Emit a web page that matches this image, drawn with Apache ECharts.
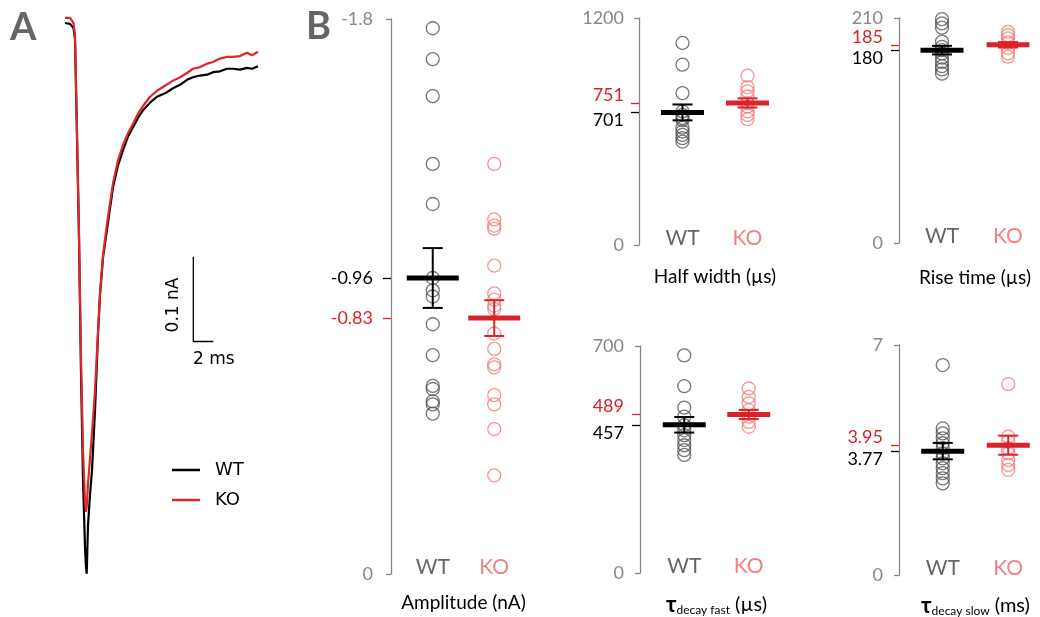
<!DOCTYPE html>
<html>
<head>
<meta charset="utf-8">
<script src="https://cdn.jsdelivr.net/npm/echarts@6/dist/echarts.min.js"></script>
<style>
  html, body { margin: 0; padding: 0; background: #fff; }
  #chart { width: 1040px; height: 617px; }
</style>
</head>
<body>
<div id="chart"></div>
<script>
// ---- panel A: averaged currents (time in ms, current in nA)
const traceTime = [0, 0.5, 0.7, 0.85, 1.0, 1.2, 1.4, 1.6, 1.8, 2.0, 2.1, 2.17, 2.3, 2.5, 2.7, 3.0, 3.3, 3.5, 3.8, 4.2,
  4.8, 5.3, 5.8, 6.3, 6.8, 7.3, 7.8, 8.5, 9.2, 10.0, 10.8, 11.5, 12.2, 12.8, 13.5, 14.2, 14.8, 15.5, 16.2, 16.8,
  17.5, 18.2, 18.7, 19.3];
const traceWT = [-0.006, -0.007, -0.009, -0.012, -0.025, -0.140, -0.260, -0.420, -0.545, -0.625, -0.648, -0.656,
  -0.599, -0.563, -0.534, -0.463, -0.374, -0.327, -0.283, -0.250, -0.200, -0.174, -0.156, -0.140, -0.129, -0.118,
  -0.109, -0.100, -0.093, -0.089, -0.083, -0.079, -0.073, -0.070, -0.068, -0.067, -0.064, -0.063, -0.060, -0.060,
  -0.061, -0.059, -0.060, -0.057];
const traceKO = [0, 0, 0, -0.006, -0.020, -0.135, -0.255, -0.400, -0.510, -0.570, -0.583, -0.577,
  -0.550, -0.520, -0.490, -0.440, -0.370, -0.325, -0.280, -0.243, -0.195, -0.168, -0.150, -0.136, -0.125, -0.113,
  -0.104, -0.093, -0.086, -0.080, -0.074, -0.070, -0.065, -0.060, -0.058, -0.054, -0.052, -0.048, -0.046, -0.046,
  -0.045, -0.041, -0.044, -0.040];
// scale bar: 2 ms x 0.1 nA
const scaleBar = [[12.83, -0.282], [12.83, -0.382], [14.83, -0.382]];

// ---- panel B: single cells, mean and SEM
const groups = ['WT', 'KO'];

const ampWT = [-1.77, -1.67, -1.55, -1.33, -1.20, -0.96, -0.92, -0.90, -0.81, -0.71, -0.61, -0.60, -0.56, -0.55, -0.52];
const ampKO = [-1.33, -1.15, -1.13, -1.12, -1.00, -0.91, -0.89, -0.87, -0.86, -0.78, -0.73, -0.68, -0.67, -0.58, -0.55, -0.47, -0.32];
const ampMean = [-0.96, -0.83];
const ampSem = [0.097, 0.058];

const halfWT = [1068, 953, 803, 706, 688, 672, 660, 620, 600, 582, 565, 547];
const halfKO = [895, 835, 812, 785, 750, 732, 706, 688, 665];
const halfMean = [701, 751];
const halfSem = [42, 24];

const riseWT = [209, 205, 201, 188, 183, 180, 177, 173, 169, 165, 162, 158];
const riseKO = [197, 194, 191, 187, 182, 177, 174];
const riseMean = [180, 185];
const riseSem = [4, 2.5];

const fastWT = [671, 576, 510, 482, 456, 440, 425, 410, 394, 379, 364];
const fastKO = [569, 543, 523, 502, 482, 466, 451];
const fastMean = [457, 489];
const fastSem = [24, 14];

const slowWT = [6.39, 4.46, 4.31, 4.16, 4.01, 3.86, 3.70, 3.55, 3.40, 3.25, 3.10, 2.94, 2.79];
const slowKO = [5.81, 4.21, 4.06, 3.86, 3.70, 3.50, 3.35, 3.20];
const slowMean = [3.77, 3.95];
const slowSem = [0.25, 0.29];

const FONT = 'Lato, "Open Sans", sans-serif';
const GRAY = '#888';
const DOT_WT = '#555';
const DOT_KO = '#f47a7a';
const MEAN_WT = '#000';
const MEAN_KO = '#d8232a';

const nameRich = {
  n: { fontFamily: FONT, fontSize: 19, color: '#000' },
  t: { fontFamily: FONT, fontSize: 22, fontWeight: 'bold', color: '#000' },
  s: { fontFamily: FONT, fontSize: 12, color: '#000', verticalAlign: 'bottom', lineHeight: 12 },
  u: { fontFamily: FONT, fontSize: 20, color: '#000' }
};

const panels = [
  { name: '{n|Amplitude (nA)}', wt: ampWT, ko: ampKO, mean: ampMean, sem: ampSem, min: -1.8, max: 0, inverse: true,
    left: 402, top: 19, width: 123, height: 555, offset: 11, barW: 52, nameGap: 19, margin: 18, shift: false },
  { name: '{n|Half width (µs)}', wt: halfWT, ko: halfKO, mean: halfMean, sem: halfSem, min: 0, max: 1200,
    left: 650, top: 18, width: 130, height: 227, offset: 11, barW: 43, nameGap: 22, margin: 15, shift: true },
  { name: '{n|Rise time (µs)}', wt: riseWT, ko: riseKO, mean: riseMean, sem: riseSem, min: 0, max: 210,
    left: 909, top: 18, width: 132, height: 225, offset: 10, barW: 43, nameGap: 25, margin: 16, shift: true },
  { name: '{t|τ}{s|decay fast}{u| (µs)}', wt: fastWT, ko: fastKO, mean: fastMean, sem: fastSem, min: 0, max: 700,
    left: 652, top: 346, width: 129, height: 227, offset: 12, barW: 43, nameGap: 21, margin: 16, shift: true },
  { name: '{t|τ}{s|decay slow}{u| (ms)}', wt: slowWT, ko: slowKO, mean: slowMean, sem: slowSem, min: 0, max: 7,
    left: 910, top: 345, width: 131, height: 230, offset: 11, barW: 43, nameGap: 20, margin: 16, shift: true }
];

const grid = [{ left: 65, top: 1, width: 200, height: 576, outerBoundsMode: 'none' }];
const xAxis = [{ type: 'value', gridIndex: 0, min: 0, max: 20, show: false }];
const yAxis = [{ type: 'value', gridIndex: 0, min: -0.66, max: 0.02, show: false }];
const series = [
  { name: 'WT', type: 'line', xAxisIndex: 0, yAxisIndex: 0, showSymbol: false, silent: true, z: 3,
    data: traceTime.map((t, i) => [t, traceWT[i]]), lineStyle: { color: '#000', width: 2.2 }, itemStyle: { color: '#000' } },
  { name: 'KO', type: 'line', xAxisIndex: 0, yAxisIndex: 0, showSymbol: false, silent: true, z: 4,
    data: traceTime.map((t, i) => [t, traceKO[i]]), lineStyle: { color: '#e0252b', width: 2.2 }, itemStyle: { color: '#e0252b' } },
  { name: 'scale', type: 'line', xAxisIndex: 0, yAxisIndex: 0, showSymbol: false, silent: true,
    data: scaleBar, lineStyle: { color: '#000', width: 1.3 } }
];

// extra y axis that only carries one coloured tick + label for a group mean
function meanAxis(gi, p, value, color, align) {
  return {
    type: 'value', gridIndex: gi, min: p.min, max: p.max, inverse: !!p.inverse, position: 'left', offset: p.offset,
    axisLine: { show: false }, splitLine: { show: false },
    axisTick: { show: true, customValues: [value], length: 8, lineStyle: { color: color, width: 1.3 } },
    axisLabel: { customValues: [value], margin: p.margin, color: color, fontFamily: FONT, fontSize: 18,
      verticalAlign: align, lineHeight: align === 'middle' ? 20 : 16, formatter: v => String(v) }
  };
}

function errorBars(barW) {
  return function (params, api) {
    const c = api.value(0), m = api.value(1), s = api.value(2);
    const p = api.coord([c, m]);
    const a = api.coord([c, m + s]);
    const b = api.coord([c, m - s]);
    const color = c === 0 ? MEAN_WT : MEAN_KO;
    const thin = { stroke: color, lineWidth: 2 };
    return {
      type: 'group',
      children: [
        { type: 'line', shape: { x1: p[0], y1: a[1], x2: p[0], y2: b[1] }, style: thin },
        { type: 'line', shape: { x1: p[0] - 10, y1: a[1], x2: p[0] + 10, y2: a[1] }, style: thin },
        { type: 'line', shape: { x1: p[0] - 10, y1: b[1], x2: p[0] + 10, y2: b[1] }, style: thin },
        { type: 'line', shape: { x1: p[0] - barW / 2, y1: p[1], x2: p[0] + barW / 2, y2: p[1] },
          style: { stroke: color, lineWidth: 5 } }
      ]
    };
  };
}

panels.forEach((p, k) => {
  const gi = k + 1;
  grid.push({ left: p.left, top: p.top, width: p.width, height: p.height, outerBoundsMode: 'none' });
  xAxis.push({
    type: 'category', gridIndex: gi, data: groups, boundaryGap: true,
    axisLine: { show: false }, axisTick: { show: false }, splitLine: { show: false },
    axisLabel: { margin: -17, fontFamily: FONT, fontSize: 21, color: v => (v === 'WT' ? '#666' : '#f28080') },
    name: p.name, nameLocation: 'middle', nameGap: p.nameGap,
    nameTextStyle: { fontFamily: FONT, fontSize: 19, color: '#000', rich: nameRich }
  });
  const yMain = yAxis.length;
  yAxis.push({
    type: 'value', gridIndex: gi, min: p.min, max: p.max, inverse: !!p.inverse, position: 'left', offset: p.offset,
    axisLine: { show: true, lineStyle: { color: GRAY, width: 1.3 } },
    axisTick: { show: true, customValues: [p.min, p.max], length: 5, lineStyle: { color: GRAY, width: 1.3 } },
    splitLine: { show: false },
    axisLabel: { customValues: [p.min, p.max], margin: p.margin, color: GRAY, fontFamily: FONT, fontSize: 18,
      formatter: v => String(v) }
  });
  yAxis.push(meanAxis(gi, p, p.mean[1], MEAN_KO, p.shift ? 'bottom' : 'middle'));
  yAxis.push(meanAxis(gi, p, p.mean[0], MEAN_WT, p.shift ? 'top' : 'middle'));

  [[p.wt, 0, DOT_WT], [p.ko, 1, DOT_KO]].forEach(([vals, c, color]) => {
    series.push({
      name: groups[c] + ' cells ' + k, type: 'scatter', xAxisIndex: gi, yAxisIndex: yMain, silent: true, z: 2,
      symbol: 'circle', symbolSize: 13,
      itemStyle: { color: 'rgba(255,255,255,0)', borderColor: color, borderWidth: 1.3 },
      data: vals.map(v => [c, v])
    });
  });
  series.push({
    name: 'mean ' + k, type: 'custom', xAxisIndex: gi, yAxisIndex: yMain, silent: true, z: 5,
    renderItem: errorBars(p.barW),
    encode: { x: 0, y: 1 },
    data: [[0, p.mean[0], p.sem[0]], [1, p.mean[1], p.sem[1]]]
  });
});

const chart = echarts.init(document.getElementById('chart'), null, { renderer: 'canvas' });
chart.setOption({
  animation: false,
  backgroundColor: '#fff',
  grid: grid,
  xAxis: xAxis,
  yAxis: yAxis,
  series: series,
  legend: {
    data: ['WT', 'KO'], orient: 'vertical', left: 167, top: 455, icon: 'rect',
    itemWidth: 28, itemHeight: 2.5, itemGap: 10, selectedMode: false,
    textStyle: { fontFamily: 'DejaVu Sans', fontSize: 18, color: '#000', lineHeight: 20, padding: [0, 0, 0, 10] }
  },
  graphic: [
    { type: 'text', left: 10, top: 9, style: { text: 'A', font: 'bold 38px Lato', fill: '#666' } },
    { type: 'text', left: 306, top: 8, style: { text: 'B', font: 'bold 38px Lato', fill: '#666' } },
    { type: 'text', x: 174, y: 305, rotation: Math.PI / 2,
      style: { text: '0.1 nA', font: '17px "DejaVu Sans"', fill: '#000', align: 'center', verticalAlign: 'middle' } },
    { type: 'text', left: 193, top: 351, style: { text: '2 ms', font: '17px "DejaVu Sans"', fill: '#000' } }
  ]
});
</script>
</body>
</html>
